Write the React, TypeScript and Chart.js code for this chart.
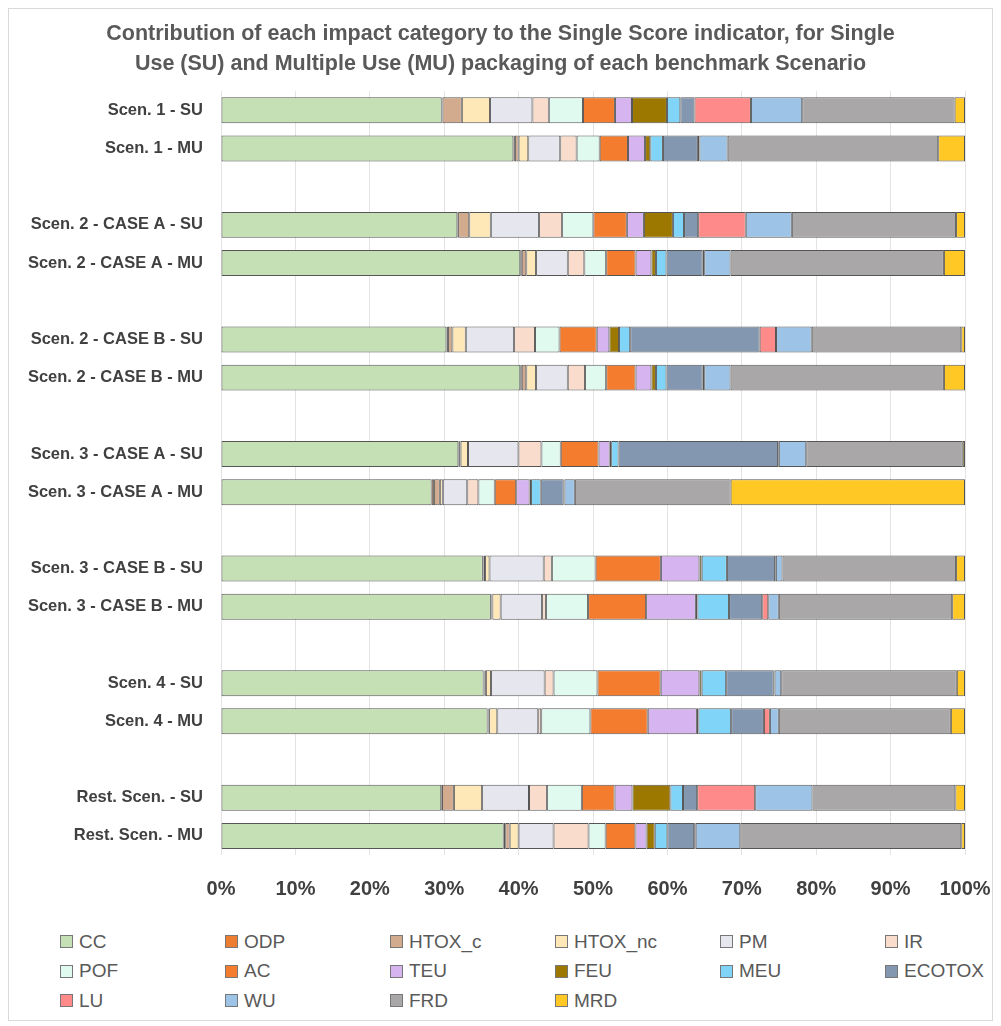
import React, { useEffect, useRef } from "react";
import { Chart, registerables } from "chart.js";

Chart.register(...registerables);

const titleLines = [
  "Contribution of each impact category to the Single Score indicator, for Single",
  "Use (SU) and Multiple Use (MU) packaging of each benchmark Scenario",
];

// bars (gaps are inserted between scenario pairs)
const barLabels = [
  "Scen. 1 - SU", "Scen. 1 - MU",
  "Scen. 2 - CASE A - SU", "Scen. 2 - CASE A - MU",
  "Scen. 2 - CASE B - SU", "Scen. 2 - CASE B - MU",
  "Scen. 3 - CASE A - SU", "Scen. 3 - CASE A - MU",
  "Scen. 3 - CASE B - SU", "Scen. 3 - CASE B - MU",
  "Scen. 4 - SU", "Scen. 4 - MU",
  "Rest. Scen. - SU", "Rest. Scen. - MU",
];

const xTicks = ["0%", "10%", "20%", "30%", "40%", "50%", "60%", "70%", "80%", "90%", "100%"];

const seriesNames = ["CC", "ODP", "HTOX_c", "HTOX_nc", "PM", "IR", "POF", "AC", "TEU", "FEU", "MEU", "ECOTOX", "LU", "WU", "FRD", "MRD"];

const CC      = [29.7, 39.3, 31.8, 39.7, 30.3, 39.7, 32.0, 28.4, 35.3, 35.8, 35.3, 35.8, 29.6, 38.0];
const ODP     = [0.1, 0.2, 0.1, 0.2, 0.2, 0.2, 0.1, 0.3, 0.1, 0.1, 0.1, 0.1, 0.1, 0.2];
const HTOX_c  = [2.6, 0.5, 1.5, 0.6, 0.6, 0.6, 0.2, 0.8, 0.2, 0.1, 0.2, 0.1, 1.6, 0.6];
const HTOX_nc = [3.8, 1.3, 2.9, 1.3, 1.8, 1.3, 1.0, 0.4, 0.6, 1.1, 0.7, 1.1, 3.8, 1.2];
const PM      = [5.7, 4.3, 6.5, 4.2, 6.5, 4.2, 6.8, 3.3, 7.3, 5.5, 7.2, 5.5, 6.3, 4.7];
const IR      = [2.2, 2.2, 3.1, 2.2, 2.8, 2.3, 3.1, 1.5, 1.1, 0.5, 1.2, 0.4, 2.4, 4.7];
const POF     = [4.6, 3.1, 4.2, 2.9, 3.3, 2.8, 2.6, 2.2, 5.9, 5.6, 5.9, 6.6, 4.7, 2.3];
const AC      = [4.3, 3.8, 4.5, 3.9, 5.0, 3.9, 5.1, 2.9, 8.8, 7.7, 8.5, 7.7, 4.4, 4.0];
const TEU     = [2.3, 2.3, 2.3, 2.1, 1.7, 2.1, 1.5, 1.8, 5.2, 6.6, 5.2, 6.6, 2.4, 1.5];
const FEU     = [4.7, 0.7, 3.9, 0.6, 1.3, 0.6, 0.2, 0.2, 0.3, 0.2, 0.3, 0.2, 5.1, 1.1];
const MEU     = [1.8, 1.7, 1.5, 1.4, 1.5, 1.4, 1.0, 1.3, 3.4, 4.2, 3.3, 4.4, 1.7, 1.7];
const ECOTOX  = [1.9, 4.7, 1.9, 4.8, 17.4, 4.8, 21.5, 3.1, 6.5, 4.4, 6.4, 4.4, 1.9, 3.6];
const LU      = [7.6, 0.2, 6.4, 0.2, 2.2, 0.2, 0.1, 0.1, 0.1, 0.8, 0.1, 0.8, 7.8, 0.2];
const WU      = [6.9, 3.8, 6.2, 3.5, 4.8, 3.5, 3.7, 1.4, 0.9, 1.4, 0.9, 1.2, 7.7, 6.0];
const FRD     = [20.5, 28.3, 22.1, 28.3, 20.1, 28.3, 21.1, 21.0, 23.4, 23.0, 23.6, 23.1, 19.2, 29.7];
const MRD     = [1.4, 3.6, 1.2, 2.8, 0.5, 2.8, 0.3, 31.6, 1.2, 1.7, 1.1, 1.9, 1.3, 0.5];

const seriesValues = [CC, ODP, HTOX_c, HTOX_nc, PM, IR, POF, AC, TEU, FEU, MEU, ECOTOX, LU, WU, FRD, MRD];

const seriesColors = [
  "#c5e0b4", "#ed7d31", "#d2ab8e", "#ffe8b8", "#e6e6ee", "#f9dccb", "#e0faf0", "#f47c2e",
  "#d6b4ef", "#9c7800", "#80d4f7", "#8497b0", "#ff8a8a", "#9dc3e6", "#a9a7a7", "#ffc825",
];

const FONT = "'Liberation Sans', Arial, sans-serif";

export default function App() {
  const canvasRef = useRef<HTMLCanvasElement | null>(null);

  useEffect(() => {
    if (!canvasRef.current) return;
    // build rows with gaps between scenario pairs
    const rowLabels: string[] = [];
    const rowIndex: (number | null)[] = [];
    barLabels.forEach((l, i) => {
      if (i > 0 && i % 2 === 0) {
        rowLabels.push("");
        rowIndex.push(null);
      }
      rowLabels.push(l);
      rowIndex.push(i);
    });
    const totals = barLabels.map((_, i) => seriesValues.reduce((s, arr) => s + arr[i], 0));
    const datasets = seriesNames.map((name, k) => ({
      label: name,
      data: rowIndex.map((i) => (i === null ? null : (seriesValues[k][i] / totals[i]) * 100)),
      backgroundColor: seriesColors[k],
      borderColor: "#555555",
      borderWidth: 1,
      borderSkipped: false as const,
      barPercentage: 0.68,
      categoryPercentage: 1,
    }));

    const chart = new Chart(canvasRef.current, {
      type: "bar",
      data: { labels: rowLabels, datasets },
      options: {
        indexAxis: "y",
        responsive: false,
        animation: false,
        layout: { padding: { left: 0, right: 0, top: 0, bottom: 0 } },
        plugins: {
          legend: { display: false },
          tooltip: { enabled: false },
          title: {
            display: true,
            text: titleLines,
            color: "#595959",
            font: { family: FONT, size: 21.5, weight: "bold", lineHeight: 1.4 },
            padding: { top: 10, bottom: 12 },
          },
        },
        scales: {
          x: {
            stacked: true,
            min: 0,
            max: 100,
            grid: { color: "#e3e3e3", drawTicks: false, lineWidth: 1 },
            border: { display: false },
            afterFit: (scale: any) => {
              scale.paddingRight = 27;
              scale.paddingLeft = 0;
            },
            ticks: {
              stepSize: 10,
              padding: 22,
              color: "#404040",
              font: { family: FONT, size: 20, weight: "bold" },
              callback: (_v: any, idx: number) => xTicks[idx],
            },
          },
          y: {
            stacked: true,
            grid: { display: false, drawTicks: false },
            border: { display: false },
            afterFit: (scale: any) => {
              scale.width = 212;
            },
            ticks: {
              padding: 18,
              color: "#404040",
              autoSkip: false,
              font: { family: FONT, size: 16.5, weight: "bold" },
            },
          },
        },
      },
    });
    return () => chart.destroy();
  }, []);

  return (
    <div style={{ width: 983, border: "1px solid #d9d9d9", background: "#fff" }}>
      <canvas ref={canvasRef} width={983} height={914} style={{ display: "block" }} />
      <div
        style={{
          display: "grid",
          gridTemplateColumns: "repeat(6, 165px)",
          gridAutoRows: "29.5px",
          paddingLeft: 51,
          paddingTop: 4,
          paddingBottom: 4,
          fontFamily: FONT,
          fontSize: 19,
          color: "#595959",
        }}
      >
        {seriesNames.map((n, k) => (
          <div key={n} style={{ display: "flex", alignItems: "center", whiteSpace: "nowrap" }}>
            <span
              style={{
                display: "inline-block",
                width: 11,
                height: 11,
                background: seriesColors[k],
                border: "1px solid #777",
                marginRight: 6,
              }}
            />
            {n}
          </div>
        ))}
      </div>
    </div>
  );
}
